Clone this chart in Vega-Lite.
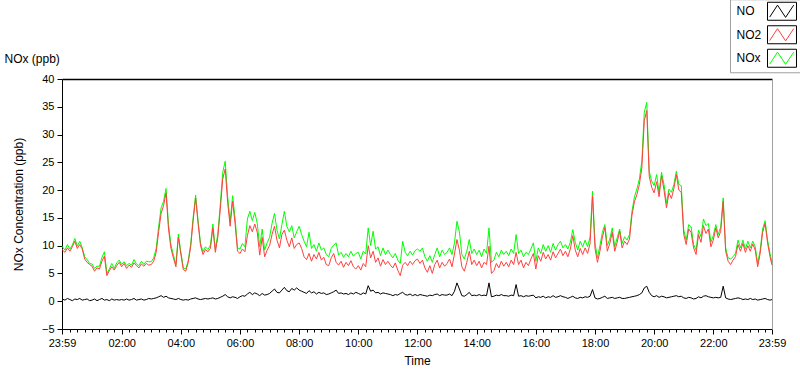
{
"$schema":"https://vega.github.io/schema/vega-lite/v6.json",
"width":710,"height":250,
"autosize":{"type":"none"},
"padding":{"left":62,"top":79,"right":28,"bottom":40},
"background":"white",
"config":{"view":{"stroke":null},"font":"Liberation Sans"},
"data":{"values":[
{"t":-1,"NO":0.4,"NO2":9.3,"NOx":9.9},{"t":5,"NO":0.2,"NO2":8.8,"NOx":9.2},{"t":10,"NO":0.5,"NO2":9.6,"NOx":10.2},{"t":15,"NO":0.3,"NO2":9.0,"NOx":9.4},{"t":20,"NO":0.1,"NO2":9.8,"NOx":10.1},{"t":25,"NO":0.4,"NO2":10.8,"NOx":11.3},{"t":30,"NO":0.3,"NO2":9.5,"NOx":9.9},{"t":35,"NO":0.5,"NO2":10.2,"NOx":10.8},{"t":40,"NO":0.2,"NO2":9.4,"NOx":9.7},{"t":45,"NO":0.3,"NO2":7.6,"NOx":8.0},{"t":50,"NO":0.4,"NO2":7.0,"NOx":7.5},{"t":55,"NO":0.1,"NO2":6.6,"NOx":6.8},
{"t":60,"NO":0.2,"NO2":6.3,"NOx":6.7},{"t":65,"NO":0.4,"NO2":5.4,"NOx":5.9},{"t":70,"NO":0.1,"NO2":6.0,"NOx":6.3},{"t":75,"NO":0.3,"NO2":5.8,"NOx":6.3},{"t":80,"NO":0.5,"NO2":7.2,"NOx":7.9},{"t":85,"NO":0.2,"NO2":8.1,"NOx":8.9},{"t":90,"NO":0.3,"NO2":4.6,"NOx":5.0},{"t":95,"NO":0.1,"NO2":5.5,"NOx":5.8},{"t":100,"NO":0.4,"NO2":6.2,"NOx":6.8},{"t":105,"NO":0.2,"NO2":5.6,"NOx":5.9},{"t":110,"NO":0.3,"NO2":6.4,"NOx":6.9},{"t":115,"NO":0.2,"NO2":7.0,"NOx":7.4},
{"t":120,"NO":0.3,"NO2":6.2,"NOx":6.6},{"t":125,"NO":0.2,"NO2":6.8,"NOx":7.1},{"t":130,"NO":0.4,"NO2":5.9,"NOx":6.4},{"t":135,"NO":0.2,"NO2":6.5,"NOx":6.8},{"t":140,"NO":0.3,"NO2":6.1,"NOx":6.5},{"t":145,"NO":0.5,"NO2":6.9,"NOx":7.5},{"t":150,"NO":0.2,"NO2":6.4,"NOx":6.7},{"t":155,"NO":0.3,"NO2":6.0,"NOx":6.4},{"t":160,"NO":0.4,"NO2":6.7,"NOx":7.2},{"t":165,"NO":0.2,"NO2":6.3,"NOx":6.6},{"t":170,"NO":0.3,"NO2":6.8,"NOx":7.2},{"t":175,"NO":0.5,"NO2":6.5,"NOx":7.1},
{"t":180,"NO":0.4,"NO2":6.6,"NOx":7.1},{"t":185,"NO":0.5,"NO2":7.2,"NOx":7.8},{"t":190,"NO":0.6,"NO2":8.8,"NOx":9.5},{"t":195,"NO":0.8,"NO2":12.5,"NOx":13.4},{"t":200,"NO":1.0,"NO2":15.8,"NOx":16.8},{"t":205,"NO":0.7,"NO2":17.2,"NOx":18.0},{"t":210,"NO":0.9,"NO2":19.5,"NOx":20.3},{"t":215,"NO":0.6,"NO2":13.0,"NOx":13.8},{"t":220,"NO":0.5,"NO2":9.5,"NOx":10.1},{"t":225,"NO":0.4,"NO2":7.8,"NOx":8.3},{"t":230,"NO":0.3,"NO2":6.2,"NOx":6.6},{"t":235,"NO":0.5,"NO2":11.5,"NOx":12.1},
{"t":240,"NO":0.3,"NO2":8.5,"NOx":8.9},{"t":245,"NO":0.2,"NO2":5.7,"NOx":6.0},{"t":250,"NO":0.3,"NO2":5.4,"NOx":5.8},{"t":255,"NO":0.2,"NO2":7.0,"NOx":7.3},{"t":260,"NO":0.4,"NO2":9.8,"NOx":10.3},{"t":265,"NO":0.5,"NO2":14.5,"NOx":15.1},{"t":270,"NO":0.6,"NO2":18.6,"NOx":19.1},{"t":275,"NO":0.4,"NO2":14.0,"NOx":14.5},{"t":280,"NO":0.3,"NO2":10.0,"NOx":10.4},{"t":285,"NO":0.4,"NO2":8.4,"NOx":8.9},{"t":290,"NO":0.5,"NO2":9.3,"NOx":9.8},{"t":295,"NO":0.4,"NO2":8.9,"NOx":9.3},
{"t":300,"NO":0.5,"NO2":9.5,"NOx":10.1},{"t":305,"NO":0.6,"NO2":13.2,"NOx":13.9},{"t":310,"NO":0.4,"NO2":8.8,"NOx":9.3},{"t":315,"NO":0.5,"NO2":11.5,"NOx":12.1},{"t":320,"NO":0.7,"NO2":16.5,"NOx":17.4},{"t":325,"NO":0.9,"NO2":22.0,"NOx":23.2},{"t":330,"NO":1.2,"NO2":23.8,"NOx":25.2},{"t":335,"NO":0.8,"NO2":17.8,"NOx":18.8},{"t":340,"NO":0.6,"NO2":13.5,"NOx":14.3},{"t":345,"NO":0.8,"NO2":18.0,"NOx":19.0},{"t":350,"NO":0.7,"NO2":14.0,"NOx":14.9},{"t":355,"NO":0.5,"NO2":9.0,"NOx":9.6},
{"t":360,"NO":0.8,"NO2":8.6,"NOx":9.4},{"t":365,"NO":1.0,"NO2":9.4,"NOx":10.4},{"t":370,"NO":0.9,"NO2":8.9,"NOx":9.8},{"t":375,"NO":1.3,"NO2":11.8,"NOx":14.8},{"t":380,"NO":1.6,"NO2":13.6,"NOx":16.2},{"t":385,"NO":1.2,"NO2":12.5,"NOx":14.5},{"t":390,"NO":1.5,"NO2":13.9,"NOx":16.0},{"t":395,"NO":1.3,"NO2":12.4,"NOx":14.0},{"t":400,"NO":1.0,"NO2":8.3,"NOx":9.8},{"t":405,"NO":1.4,"NO2":11.5,"NOx":13.0},{"t":410,"NO":1.1,"NO2":8.0,"NOx":9.2},{"t":415,"NO":1.2,"NO2":9.2,"NOx":10.5},
{"t":420,"NO":1.4,"NO2":10.0,"NOx":11.5},{"t":425,"NO":1.8,"NO2":12.0,"NOx":14.0},{"t":430,"NO":2.2,"NO2":13.5,"NOx":15.8},{"t":435,"NO":1.6,"NO2":11.0,"NOx":12.8},{"t":440,"NO":1.5,"NO2":9.6,"NOx":11.2},{"t":445,"NO":2.0,"NO2":12.0,"NOx":13.8},{"t":450,"NO":2.5,"NO2":12.8,"NOx":16.2},{"t":455,"NO":1.9,"NO2":11.0,"NOx":13.5},{"t":460,"NO":1.7,"NO2":9.8,"NOx":12.5},{"t":465,"NO":2.3,"NO2":11.4,"NOx":13.6},{"t":470,"NO":2.0,"NO2":9.5,"NOx":11.4},{"t":475,"NO":2.4,"NO2":10.2,"NOx":12.5},
{"t":480,"NO":2.0,"NO2":10.5,"NOx":13.5},{"t":485,"NO":1.8,"NO2":9.5,"NOx":12.0},{"t":490,"NO":1.6,"NO2":8.0,"NOx":10.8},{"t":495,"NO":1.4,"NO2":7.5,"NOx":9.8},{"t":500,"NO":1.9,"NO2":8.6,"NOx":12.4},{"t":505,"NO":1.5,"NO2":7.2,"NOx":9.5},{"t":510,"NO":1.7,"NO2":8.4,"NOx":10.2},{"t":515,"NO":1.3,"NO2":7.6,"NOx":9.0},{"t":520,"NO":1.6,"NO2":8.8,"NOx":10.5},{"t":525,"NO":1.4,"NO2":7.4,"NOx":9.2},{"t":530,"NO":1.5,"NO2":7.9,"NOx":9.6},{"t":535,"NO":1.2,"NO2":6.6,"NOx":8.4},
{"t":540,"NO":1.3,"NO2":6.4,"NOx":8.0},{"t":545,"NO":1.5,"NO2":7.8,"NOx":9.5},{"t":550,"NO":1.7,"NO2":8.6,"NOx":10.1},{"t":555,"NO":2.0,"NO2":7.0,"NOx":10.5},{"t":560,"NO":1.4,"NO2":6.5,"NOx":8.3},{"t":565,"NO":1.5,"NO2":7.2,"NOx":8.8},{"t":570,"NO":1.3,"NO2":6.1,"NOx":7.9},{"t":575,"NO":1.4,"NO2":7.0,"NOx":8.6},{"t":580,"NO":1.2,"NO2":6.4,"NOx":8.0},{"t":585,"NO":1.5,"NO2":7.3,"NOx":9.0},{"t":590,"NO":1.3,"NO2":6.2,"NOx":8.1},{"t":595,"NO":1.6,"NO2":5.8,"NOx":8.6},
{"t":600,"NO":1.4,"NO2":6.4,"NOx":8.8},{"t":605,"NO":1.2,"NO2":5.6,"NOx":7.6},{"t":610,"NO":1.5,"NO2":6.8,"NOx":9.0},{"t":615,"NO":1.3,"NO2":6.2,"NOx":8.5},{"t":620,"NO":2.8,"NO2":10.0,"NOx":13.2},{"t":625,"NO":1.8,"NO2":7.8,"NOx":10.0},{"t":630,"NO":2.0,"NO2":9.0,"NOx":12.6},{"t":635,"NO":1.5,"NO2":7.0,"NOx":9.4},{"t":640,"NO":1.6,"NO2":7.8,"NOx":9.8},{"t":645,"NO":1.3,"NO2":6.3,"NOx":8.2},{"t":650,"NO":1.5,"NO2":7.5,"NOx":9.6},{"t":655,"NO":1.4,"NO2":6.6,"NOx":8.4},
{"t":660,"NO":1.3,"NO2":7.2,"NOx":9.2},{"t":665,"NO":1.2,"NO2":6.5,"NOx":8.4},{"t":670,"NO":1.0,"NO2":6.0,"NOx":7.8},{"t":675,"NO":1.2,"NO2":6.9,"NOx":8.6},{"t":680,"NO":1.1,"NO2":5.6,"NOx":7.4},{"t":685,"NO":1.4,"NO2":4.6,"NOx":6.8},{"t":690,"NO":1.6,"NO2":6.5,"NOx":10.8},{"t":695,"NO":1.2,"NO2":7.0,"NOx":8.8},{"t":700,"NO":1.1,"NO2":6.4,"NOx":8.2},{"t":705,"NO":1.3,"NO2":7.2,"NOx":9.0},{"t":710,"NO":1.0,"NO2":6.6,"NOx":8.3},{"t":715,"NO":1.2,"NO2":7.3,"NOx":9.1},
{"t":720,"NO":1.0,"NO2":7.6,"NOx":9.4},{"t":725,"NO":1.2,"NO2":6.8,"NOx":9.0},{"t":730,"NO":1.1,"NO2":7.4,"NOx":9.6},{"t":735,"NO":1.0,"NO2":6.0,"NOx":8.0},{"t":740,"NO":0.9,"NO2":5.2,"NOx":7.2},{"t":745,"NO":1.1,"NO2":6.4,"NOx":8.2},{"t":750,"NO":1.0,"NO2":5.0,"NOx":7.0},{"t":755,"NO":1.2,"NO2":6.6,"NOx":8.4},{"t":760,"NO":1.3,"NO2":7.4,"NOx":9.6},{"t":765,"NO":1.0,"NO2":6.0,"NOx":8.0},{"t":770,"NO":1.2,"NO2":7.0,"NOx":9.2},{"t":775,"NO":1.1,"NO2":6.3,"NOx":8.4},
{"t":780,"NO":1.1,"NO2":6.8,"NOx":8.8},{"t":785,"NO":1.3,"NO2":7.6,"NOx":9.6},{"t":790,"NO":1.0,"NO2":6.2,"NOx":8.4},{"t":795,"NO":1.8,"NO2":8.5,"NOx":10.5},{"t":800,"NO":3.3,"NO2":11.1,"NOx":14.4},{"t":805,"NO":2.2,"NO2":9.2,"NOx":12.5},{"t":810,"NO":1.0,"NO2":6.2,"NOx":8.4},{"t":815,"NO":0.9,"NO2":5.4,"NOx":7.6},{"t":820,"NO":1.2,"NO2":7.0,"NOx":9.0},{"t":825,"NO":1.6,"NO2":9.0,"NOx":11.1},{"t":830,"NO":1.0,"NO2":6.6,"NOx":8.6},{"t":835,"NO":1.1,"NO2":7.4,"NOx":9.4},
{"t":840,"NO":1.0,"NO2":6.4,"NOx":8.4},{"t":845,"NO":1.2,"NO2":7.2,"NOx":9.2},{"t":850,"NO":1.0,"NO2":6.0,"NOx":8.0},{"t":855,"NO":1.1,"NO2":7.0,"NOx":9.4},{"t":860,"NO":1.0,"NO2":6.6,"NOx":8.6},{"t":865,"NO":3.3,"NO2":9.9,"NOx":13.2},{"t":870,"NO":0.8,"NO2":5.0,"NOx":7.0},{"t":875,"NO":0.9,"NO2":5.5,"NOx":7.4},{"t":880,"NO":1.1,"NO2":6.8,"NOx":8.8},{"t":885,"NO":1.0,"NO2":6.0,"NOx":8.0},{"t":890,"NO":1.2,"NO2":7.2,"NOx":9.2},{"t":895,"NO":1.0,"NO2":6.3,"NOx":8.4},
{"t":900,"NO":1.0,"NO2":7.0,"NOx":9.0},{"t":905,"NO":0.9,"NO2":6.2,"NOx":8.2},{"t":910,"NO":1.1,"NO2":7.4,"NOx":9.4},{"t":915,"NO":1.0,"NO2":6.6,"NOx":8.6},{"t":920,"NO":3.0,"NO2":8.8,"NOx":12.0},{"t":925,"NO":0.9,"NO2":6.6,"NOx":8.6},{"t":930,"NO":1.0,"NO2":7.4,"NOx":9.2},{"t":935,"NO":0.8,"NO2":6.0,"NOx":8.0},{"t":940,"NO":1.0,"NO2":7.0,"NOx":8.8},{"t":945,"NO":0.9,"NO2":6.4,"NOx":8.4},{"t":950,"NO":1.0,"NO2":7.6,"NOx":9.4},{"t":955,"NO":1.1,"NO2":8.6,"NOx":10.5},
{"t":960,"NO":0.6,"NO2":5.8,"NOx":7.2},{"t":965,"NO":0.8,"NO2":8.2,"NOx":9.6},{"t":970,"NO":0.7,"NO2":7.2,"NOx":8.6},{"t":975,"NO":0.9,"NO2":8.8,"NOx":10.2},{"t":980,"NO":0.6,"NO2":7.6,"NOx":9.0},{"t":985,"NO":0.8,"NO2":8.4,"NOx":10.0},{"t":990,"NO":0.7,"NO2":7.4,"NOx":8.8},{"t":995,"NO":1.0,"NO2":8.9,"NOx":10.4},{"t":1000,"NO":0.7,"NO2":7.8,"NOx":9.2},{"t":1005,"NO":0.8,"NO2":8.6,"NOx":10.2},{"t":1010,"NO":1.0,"NO2":9.4,"NOx":10.8},{"t":1015,"NO":0.8,"NO2":8.2,"NOx":9.6},
{"t":1020,"NO":0.7,"NO2":9.0,"NOx":10.2},{"t":1025,"NO":0.5,"NO2":8.0,"NOx":9.4},{"t":1030,"NO":0.7,"NO2":9.4,"NOx":10.6},{"t":1035,"NO":0.9,"NO2":11.8,"NOx":12.9},{"t":1040,"NO":0.6,"NO2":9.2,"NOx":10.6},{"t":1045,"NO":0.5,"NO2":8.0,"NOx":9.2},{"t":1050,"NO":0.7,"NO2":9.5,"NOx":10.8},{"t":1055,"NO":0.6,"NO2":8.4,"NOx":9.8},{"t":1060,"NO":0.8,"NO2":9.6,"NOx":11.0},{"t":1065,"NO":0.7,"NO2":8.6,"NOx":9.8},{"t":1070,"NO":0.9,"NO2":10.4,"NOx":11.6},{"t":1075,"NO":2.1,"NO2":18.9,"NOx":19.8},
{"t":1080,"NO":0.6,"NO2":9.5,"NOx":10.5},{"t":1085,"NO":0.4,"NO2":7.0,"NOx":7.8},{"t":1090,"NO":0.5,"NO2":9.0,"NOx":10.0},{"t":1095,"NO":0.7,"NO2":11.5,"NOx":12.4},{"t":1100,"NO":0.9,"NO2":13.3,"NOx":13.8},{"t":1105,"NO":0.5,"NO2":9.0,"NOx":10.0},{"t":1110,"NO":0.6,"NO2":10.4,"NOx":11.2},{"t":1115,"NO":0.7,"NO2":12.4,"NOx":13.2},{"t":1120,"NO":0.5,"NO2":9.0,"NOx":9.8},{"t":1125,"NO":0.6,"NO2":10.6,"NOx":11.4},{"t":1130,"NO":0.7,"NO2":12.6,"NOx":13.0},{"t":1135,"NO":0.5,"NO2":9.6,"NOx":10.4},
{"t":1140,"NO":0.5,"NO2":10.8,"NOx":11.6},{"t":1145,"NO":0.6,"NO2":10.2,"NOx":11.0},{"t":1150,"NO":0.7,"NO2":11.2,"NOx":12.0},{"t":1155,"NO":0.8,"NO2":15.5,"NOx":16.2},{"t":1160,"NO":0.9,"NO2":17.9,"NOx":18.8},{"t":1165,"NO":1.0,"NO2":19.2,"NOx":20.2},{"t":1170,"NO":1.2,"NO2":21.0,"NOx":22.0},{"t":1175,"NO":1.5,"NO2":24.0,"NOx":25.2},{"t":1180,"NO":2.4,"NO2":32.5,"NOx":34.0},{"t":1185,"NO":2.7,"NO2":34.3,"NOx":35.8},{"t":1190,"NO":1.6,"NO2":22.5,"NOx":23.4},{"t":1195,"NO":1.0,"NO2":20.5,"NOx":21.6},
{"t":1200,"NO":0.8,"NO2":19.5,"NOx":20.8},{"t":1205,"NO":1.0,"NO2":21.5,"NOx":22.8},{"t":1210,"NO":0.7,"NO2":18.8,"NOx":19.6},{"t":1215,"NO":0.9,"NO2":22.6,"NOx":23.2},{"t":1220,"NO":0.8,"NO2":20.0,"NOx":21.0},{"t":1225,"NO":0.6,"NO2":16.8,"NOx":17.6},{"t":1230,"NO":0.7,"NO2":19.5,"NOx":20.2},{"t":1235,"NO":0.8,"NO2":18.5,"NOx":19.6},{"t":1240,"NO":0.9,"NO2":20.3,"NOx":21.0},{"t":1245,"NO":1.0,"NO2":22.8,"NOx":23.4},{"t":1250,"NO":0.8,"NO2":20.0,"NOx":21.0},{"t":1255,"NO":0.9,"NO2":19.6,"NOx":20.8},
{"t":1260,"NO":0.6,"NO2":12.0,"NOx":12.8},{"t":1265,"NO":0.5,"NO2":10.2,"NOx":11.0},{"t":1270,"NO":0.7,"NO2":13.0,"NOx":13.8},{"t":1275,"NO":0.6,"NO2":12.4,"NOx":13.4},{"t":1280,"NO":0.4,"NO2":9.6,"NOx":10.2},{"t":1285,"NO":0.5,"NO2":8.4,"NOx":9.2},{"t":1290,"NO":0.8,"NO2":12.0,"NOx":12.8},{"t":1295,"NO":0.6,"NO2":10.6,"NOx":11.6},{"t":1300,"NO":0.9,"NO2":13.6,"NOx":14.8},{"t":1305,"NO":1.0,"NO2":12.2,"NOx":13.6},{"t":1310,"NO":0.8,"NO2":13.0,"NOx":14.0},{"t":1315,"NO":0.7,"NO2":9.8,"NOx":10.6},
{"t":1320,"NO":0.6,"NO2":11.0,"NOx":11.8},{"t":1325,"NO":0.7,"NO2":13.2,"NOx":13.8},{"t":1330,"NO":0.6,"NO2":11.4,"NOx":12.0},{"t":1335,"NO":0.7,"NO2":12.6,"NOx":13.4},{"t":1340,"NO":2.7,"NO2":18.0,"NOx":18.6},{"t":1345,"NO":0.6,"NO2":9.0,"NOx":9.6},{"t":1350,"NO":0.4,"NO2":7.2,"NOx":7.8},{"t":1355,"NO":0.3,"NO2":6.6,"NOx":7.6},{"t":1360,"NO":0.4,"NO2":7.4,"NOx":8.0},{"t":1365,"NO":0.5,"NO2":8.0,"NOx":8.6},{"t":1370,"NO":0.6,"NO2":10.2,"NOx":11.0},{"t":1375,"NO":0.5,"NO2":9.0,"NOx":9.6},
{"t":1380,"NO":0.3,"NO2":10.4,"NOx":11.0},{"t":1385,"NO":0.4,"NO2":8.8,"NOx":9.4},{"t":1390,"NO":0.3,"NO2":10.0,"NOx":10.8},{"t":1395,"NO":0.5,"NO2":9.0,"NOx":9.6},{"t":1400,"NO":0.3,"NO2":10.3,"NOx":10.8},{"t":1405,"NO":0.4,"NO2":9.2,"NOx":9.8},{"t":1410,"NO":0.2,"NO2":6.2,"NOx":6.8},{"t":1415,"NO":0.3,"NO2":8.6,"NOx":9.2},{"t":1420,"NO":0.4,"NO2":12.4,"NOx":13.0},{"t":1425,"NO":0.5,"NO2":14.0,"NOx":14.5},{"t":1430,"NO":0.3,"NO2":10.5,"NOx":11.0},{"t":1435,"NO":0.2,"NO2":8.0,"NOx":8.6},
{"t":1439,"NO":0.3,"NO2":6.5,"NOx":7.0}
]},
"layer":[
{"transform":[{"fold":["NOx","NO2","NO"],"as":["key","val"]}],
 "mark":{"type":"line","strokeWidth":1,"interpolate":"linear"},
 "encoding":{
  "x":{"field":"t","type":"quantitative","scale":{"domain":[-1,1439],"nice":false,"zero":false},
   "axis":{"orient":"bottom","values":[-1,120,240,360,480,600,720,840,960,1080,1200,1320,1439],
    "labelExpr":"datum.value < 0 || datum.value > 1430 ? '23:59' : (datum.value < 600 ? '0' : '') + (datum.value/60) + ':00'",
    "title":"Time","grid":false,"domainColor":"black","domainWidth":1,"tickColor":"black","tickSize":5,"labelPadding":3,
    "labelFont":"Liberation Sans","labelFontSize":11,"labelColor":"black","labelFlush":false,"labelOverlap":false,
    "titleFont":"Liberation Sans","titleFontSize":12,"titleFontWeight":"normal","titleColor":"black","titleY":35,"titleBaseline":"alphabetic"}},
  "y":{"field":"val","type":"quantitative","scale":{"domain":[-5,40],"nice":false,"zero":false},
   "axis":{"orient":"left","values":[-5,0,5,10,15,20,25,30,35,40],"title":"NOx Concentration (ppb)","grid":false,
    "domainColor":"black","domainWidth":1,"tickColor":"black","tickSize":5,"labelPadding":3,
    "labelFont":"Liberation Sans","labelFontSize":11,"labelColor":"black",
    "titleFont":"Liberation Sans","titleFontSize":12,"titleFontWeight":"normal","titleColor":"black","titleX":-40,"titleY":125,"titleBaseline":"alphabetic","titleAlign":"center","titleAngle":-90}},
  "color":{"field":"key","type":"nominal","scale":{"domain":["NO","NO2","NOx"],"range":["#000000","#ff4040","#00ff00"]},
   "legend":{"orient":"none","legendX":668,"legendY":-79.75,"title":null,
    "symbolType":"M-1.61,-1L-1.61,-1M1.61,1L1.61,1M2.3,0L2.3,0M-1.37,0.65L-0.5,-0.68L0.4,0.68L1.3,-0.68","symbolSize":324,"symbolStrokeWidth":1,"symbolFillColor":"transparent",
    "symbolOffset":40,"labelOffset":-55,"labelFont":"Liberation Sans","labelFontSize":12,"labelColor":"black",
    "rowPadding":0.5,"padding":2.5}}
 }},
{"transform":[{"fold":["NOx","NO2","NO"],"as":["key2","val2"]}],
 "mark":{"type":"point","opacity":0,"filled":false},
 "encoding":{
  "x":{"field":"t","type":"quantitative","scale":{"domain":[-1,1439],"nice":false,"zero":false},
   "axis":{"orient":"bottom","values":[15,30,45,60,75,90,105,120,135,150,165,180,195,210,225,240,255,270,285,300,315,330,345,360,375,390,405,420,435,450,465,480,495,510,525,540,555,570,585,600,615,630,645,660,675,690,705,720,735,750,765,780,795,810,825,840,855,870,885,900,915,930,945,960,975,990,1005,1020,1035,1050,1065,1080,1095,1110,1125,1140,1155,1170,1185,1200,1215,1230,1245,1260,1275,1290,1305,1320,1335,1350,1365,1380,1395,1410,1425],
    "labels":false,"domain":false,"title":null,"grid":false,"tickSize":3,"tickColor":"black"}},
  "y":{"field":"val2","type":"quantitative","scale":{"domain":[-5,40],"nice":false,"zero":false},
   "axis":{"orient":"right","values":[40],"labels":false,"ticks":false,"grid":true,"gridColor":"black","gridWidth":1.5,"gridOpacity":1,"domainColor":"#a0a0a0","domainWidth":1,
    "title":"NOx (ppb)","titleX":-768,"titleY":-16.5,"titleAngle":0,"titleAlign":"left","titleBaseline":"alphabetic","titleFont":"Liberation Sans","titleFontSize":12,"titleFontWeight":"normal","titleColor":"black"}},
  "shape":{"field":"key2","type":"nominal","scale":{"range":["M-1.61,-1H1.61V1H-1.61ZM2.3,0L2.3,0","M-1.61,-1H1.61V1H-1.61ZM2.3,0L2.3,0","M-1.61,-1H1.61V1H-1.61ZM2.3,0L2.3,0"]},
   "legend":{"orient":"none","legendX":668,"legendY":-79.75,"title":null,"symbolSize":324,"symbolStrokeWidth":1,"symbolStrokeColor":"black","symbolFillColor":"transparent","symbolOpacity":1,
    "symbolOffset":40,"labelOffset":-55,"labelExpr":"''","labelFont":"Liberation Sans","labelFontSize":12,"labelColor":"black","rowPadding":0.5,"padding":2.5,"strokeColor":"#a0a0a0"}}
 }}
],
"resolve":{"axis":{"x":"independent","y":"independent"}}
}
